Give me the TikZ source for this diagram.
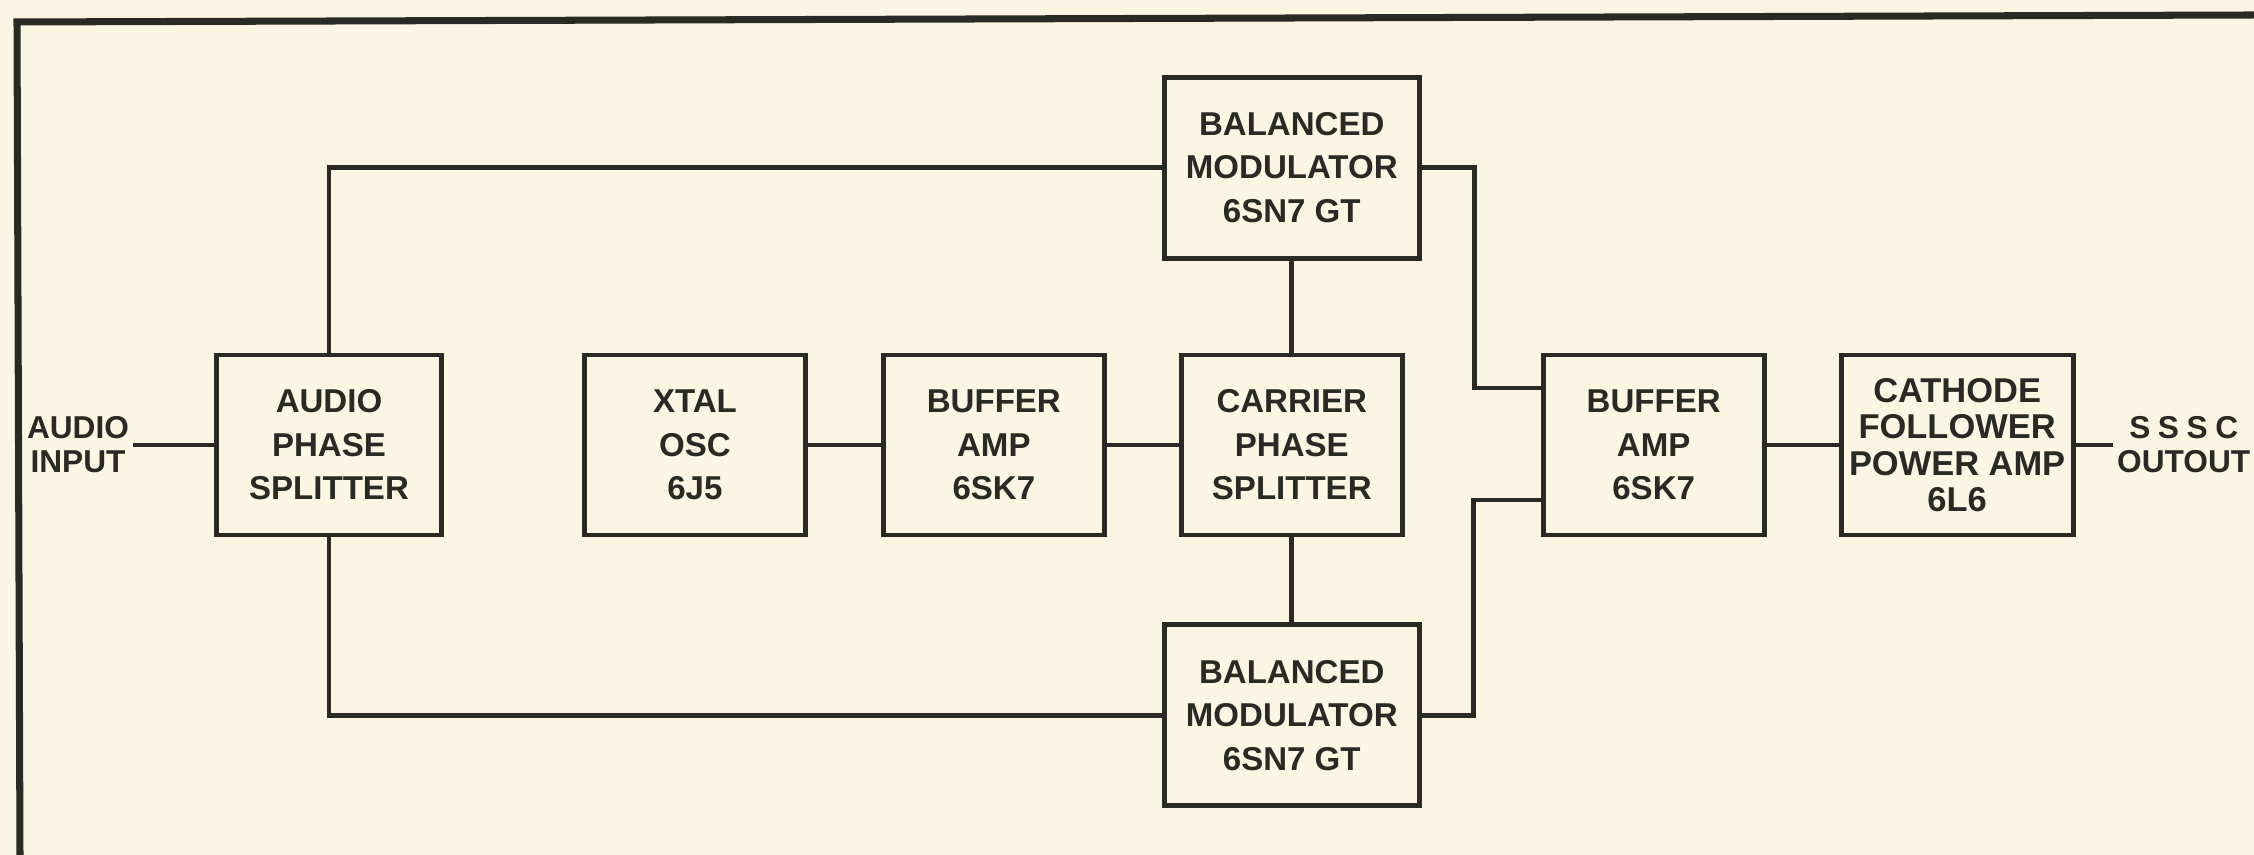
\documentclass[tikz,border=0pt]{standalone}
\usepackage{fontspec}
\setmainfont{Liberation Sans}
\usetikzlibrary{positioning,calc}
\definecolor{Paper}{HTML}{FBF5E3}
\definecolor{Ink}{HTML}{2A2A24}

\begin{document}
\begin{tikzpicture}[
  node distance=0.73cm,
  block/.style={draw=Ink,line width=1.4pt,minimum width=2.21cm,minimum height=1.80cm,align=center,font=\fontsize{9.4}{12.4}\selectfont\bfseries,text=Ink,inner sep=2pt},
  tag/.style={align=center,font=\fontsize{9}{9.7}\selectfont\bfseries,text=Ink,inner sep=1pt},
  wire/.style={draw=Ink,line width=1.4pt}
]
\useasboundingbox (0,0) rectangle (22.54,8.55);
\fill[Paper] (0,0) rectangle (22.54,8.55);
\draw[Ink,line width=2pt] (0.20,0) -- (0.17,8.33) -- (22.54,8.40);
\node[block,minimum width=2.25cm] (aps) at (3.29,4.10) {AUDIO\\PHASE\\SPLITTER};
\node[block,right=1.38cm of aps] (xtal) {XTAL\\OSC\\6J5};
\node[block,right=of xtal] (buf1) {BUFFER\\AMP\\6SK7};
\node[block,right=0.72cm of buf1] (cps) {CARRIER\\PHASE\\SPLITTER};
\node[block,minimum width=2.55cm,minimum height=1.81cm,above=0.92cm of cps] (bmt) {BALANCED\\MODULATOR\\6SN7 GT};
\node[block,minimum width=2.55cm,minimum height=1.81cm,below=0.85cm of cps] (bmb) {BALANCED\\MODULATOR\\6SN7 GT};
\node[block,right=1.36cm of cps] (buf2) {BUFFER\\AMP\\6SK7};
\node[block,minimum width=2.32cm,font=\fontsize{9.8}{10.4}\selectfont\bfseries,right=0.72cm of buf2] (cf) {CATHODE\\FOLLOWER\\POWER AMP\\6L6};
\node[tag] (inp) at (0.78,4.10) {AUDIO\\INPUT};
\node[tag,anchor=west] (outp) at (21.13,4.10) {{\addfontfeature{LetterSpace=24}SSSC}\\OUTOUT};
\foreach \a/\b in {inp/aps,xtal/buf1,buf1/cps,buf2/cf,cf/outp,bmt/cps,cps/bmb}{\draw[wire] (\a) -- (\b);}
\draw[wire] (aps.north) |- (bmt.west);
\draw[wire] (aps.south) |- (bmb.west);
\draw[wire] (bmt.east) -- ++(0.53,0) |- ([yshift=5.7mm]buf2.west);
\draw[wire] (bmb.east) -- ++(0.52,0) |- ([yshift=-5.5mm]buf2.west);
\end{tikzpicture}
\end{document}
